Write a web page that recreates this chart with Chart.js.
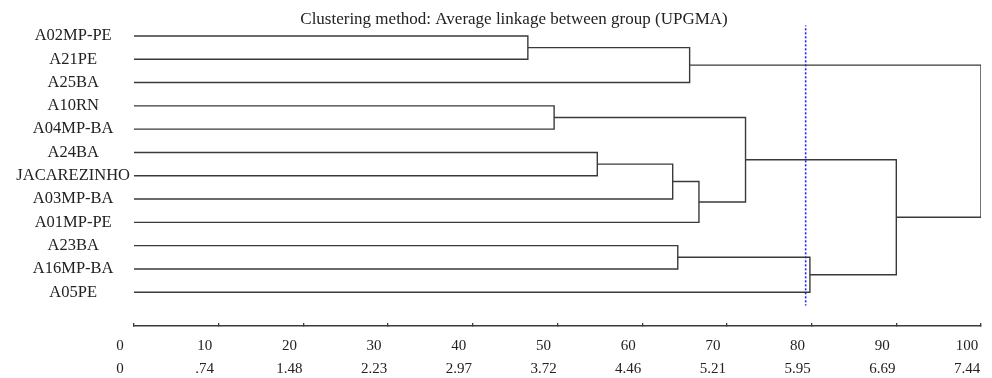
<!DOCTYPE html>
<html>
<head>
<meta charset="utf-8">
<script src="https://cdn.jsdelivr.net/npm/chart.js@4.4.1/dist/chart.umd.min.js"></script>
<style>
    html, body { margin: 0; padding: 0; background: #ffffff; }
    #contenedor { width: 992px; height: 378px; }
</style>
</head>
<body>
<div id="contenedor"><canvas id="dendrograma" width="992" height="378"></canvas></div>
<script>
// ===== DATOS =====
const TITULO = 'Clustering method: Average linkage between group (UPGMA)';

const etiquetasHojas = [
    'A02MP-PE', 'A21PE', 'A25BA', 'A10RN', 'A04MP-BA', 'A24BA',
    'JACAREZINHO', 'A03MP-BA', 'A01MP-PE', 'A23BA', 'A16MP-BA', 'A05PE'
];

// Uniones: índices 0-11 = hojas, 12 en adelante = grupos en este mismo orden
const unionA = [0, 3, 5, 14, 9, 12, 15, 13, 16, 19, 17];
const unionB = [1, 4, 6, 7, 10, 2, 8, 18, 11, 20, 21];
const alturaUnion = [46.5, 49.6, 54.7, 63.6, 64.2, 65.6, 66.7, 72.2, 79.8, 90.0, 100];

// Línea de corte (punteada azul)
const corteAltura = 79.3;

// Escala inferior: reescalada (0-100) y distancia real
const ticksX = [0, 10, 20, 30, 40, 50, 60, 70, 80, 90, 100];
const etiquetasEscala = ['0', '10', '20', '30', '40', '50', '60', '70', '80', '90', '100'];
const etiquetasDistancia = ['0', '.74', '1.48', '2.23', '2.97', '3.72', '4.46', '5.21', '5.95', '6.69', '7.44'];

const FUENTE = '"Liberation Serif", "DejaVu Serif", serif';
const COLOR_LINEA = '#3a3a3a';
const COLOR_TEXTO = '#222222';

// ===== RAMAS DEL DENDROGRAMA =====
function construirRamas() {
    const posicion = etiquetasHojas.map((_, i) => i);
    const altura = etiquetasHojas.map(() => 0);
    const ramas = [];

    for (let k = 0; k < alturaUnion.length; k++) {
        const a = unionA[k];
        const b = unionB[k];
        const h = alturaUnion[k];

        ramas.push({
            data: [
                { x: altura[a], y: posicion[a] },
                { x: h, y: posicion[a] },
                { x: h, y: posicion[b] },
                { x: altura[b], y: posicion[b] }
            ],
            borderColor: COLOR_LINEA,
            borderWidth: 1.4
        });

        posicion.push((posicion[a] + posicion[b]) / 2);
        altura.push(h);
    }
    return ramas;
}

// ===== TÍTULO =====
const pluginTitulo = {
    id: 'titulo',
    afterDraw(chart) {
        const c = chart.ctx;
        c.save();
        c.font = '17px ' + FUENTE;
        c.fillStyle = COLOR_TEXTO;
        c.textAlign = 'center';
        c.textBaseline = 'middle';
        c.fillText(TITULO, 514, 20);
        c.restore();
    }
};

// ===== GRÁFICO =====
document.addEventListener('DOMContentLoaded', function () {
    const corte = {
        data: [
            { x: corteAltura, y: -0.5 },
            { x: corteAltura, y: 11.57 }
        ],
        borderColor: '#1a1aff',
        borderWidth: 1.6,
        borderDash: [2, 2]
    };

    const ctx = document.getElementById('dendrograma').getContext('2d');
    window.chartDendrograma = new Chart(ctx, {
        type: 'line',
        data: { datasets: [...construirRamas(), corte] },
        options: {
            responsive: false,
            animation: false,
            layout: { padding: { top: 25.5, right: 11, bottom: 0, left: 0 } },
            plugins: {
                legend: { display: false },
                tooltip: { enabled: false },
                title: { display: false }
            },
            elements: {
                point: { radius: 0, hoverRadius: 0 },
                line: { tension: 0 }
            },
            scales: {
                x: {
                    type: 'linear',
                    position: 'bottom',
                    min: 0,
                    max: 100,
                    afterBuildTicks: s => { s.ticks = ticksX.map(v => ({ value: v })); },
                    afterFit: s => {
                        s.height = 52;
                        s.paddingLeft = 0;
                        s.paddingRight = 0;
                    },
                    ticks: {
                        autoSkip: false,
                        maxRotation: 0,
                        labelOffset: -14,
                        padding: 11.5,
                        color: COLOR_TEXTO,
                        font: { family: FUENTE, size: 15, lineHeight: 1.533 },
                        callback: (v, i) => [etiquetasEscala[i], etiquetasDistancia[i]]
                    },
                    grid: {
                        drawOnChartArea: false,
                        drawTicks: true,
                        tickLength: -3,
                        color: COLOR_LINEA,
                        lineWidth: 1.3
                    },
                    border: { display: true, color: COLOR_LINEA, width: 1.5 }
                },
                y: {
                    type: 'linear',
                    reverse: true,
                    min: -0.45,
                    max: 12.45,
                    afterBuildTicks: s => { s.ticks = etiquetasHojas.map((_, i) => ({ value: i })); },
                    afterFit: s => {
                        s.width = 134;
                        s.paddingTop = 0;
                        s.paddingBottom = 0;
                    },
                    ticks: {
                        autoSkip: false,
                        crossAlign: 'center',
                        padding: -4,
                        color: COLOR_TEXTO,
                        font: { family: FUENTE, size: 16.5 },
                        callback: v => etiquetasHojas[v]
                    },
                    grid: { display: false },
                    border: { display: false }
                }
            }
        },
        plugins: [pluginTitulo]
    });
});
</script>
</body>
</html>
